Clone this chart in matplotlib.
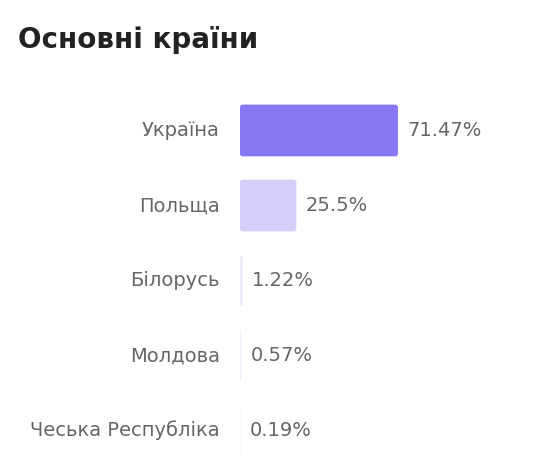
import matplotlib.pyplot as plt
from matplotlib.patches import FancyBboxPatch

countries = ["Україна", "Польща", "Білорусь", "Молдова", "Чеська Республіка"]
shares = [71.47, 25.5, 1.22, 0.57, 0.19]
share_labels = ["71.47%", "25.5%", "1.22%", "0.57%", "0.19%"]
colors = ["#8677f2", "#d5cffc", "#ece9fd", "#f1effe", "#f5f4fe"]

W, H = 552, 472
fig = plt.figure(figsize=(W / 100, H / 100), dpi=100)
fig.text(18 / W, 1 - 40 / H, "Основні країни", fontsize=20, fontweight="bold",
         color="#222222", va="center", ha="left")

# axes: bars start at x=240px, 5 rows of 75px from y=93px
ax = fig.add_axes([240 / W, 1 - 468 / H, (W - 240) / W, 375 / H])
ax.set_xlim(0, (W - 240) / 2.21)
ax.set_ylim(4.5, -0.5)
ax.axis("off")

h = 0.69
for i, (v, c) in enumerate(zip(shares, colors)):
    ax.add_patch(FancyBboxPatch((0, i - h / 2), v, h,
                                boxstyle="round,pad=0,rounding_size=1.2",
                                mutation_aspect=0.03, fc=c, ec="none"))
    ax.annotate(share_labels[i], (v, i), xytext=(9, 0), textcoords="offset pixels",
                va="center", ha="left", fontsize=14, color="#666666")
    ax.annotate(countries[i], (0, i), xytext=(-20, 0), textcoords="offset pixels",
                va="center", ha="right", fontsize=14, color="#666666",
                annotation_clip=False)

fig.savefig("out.png", dpi=100)
